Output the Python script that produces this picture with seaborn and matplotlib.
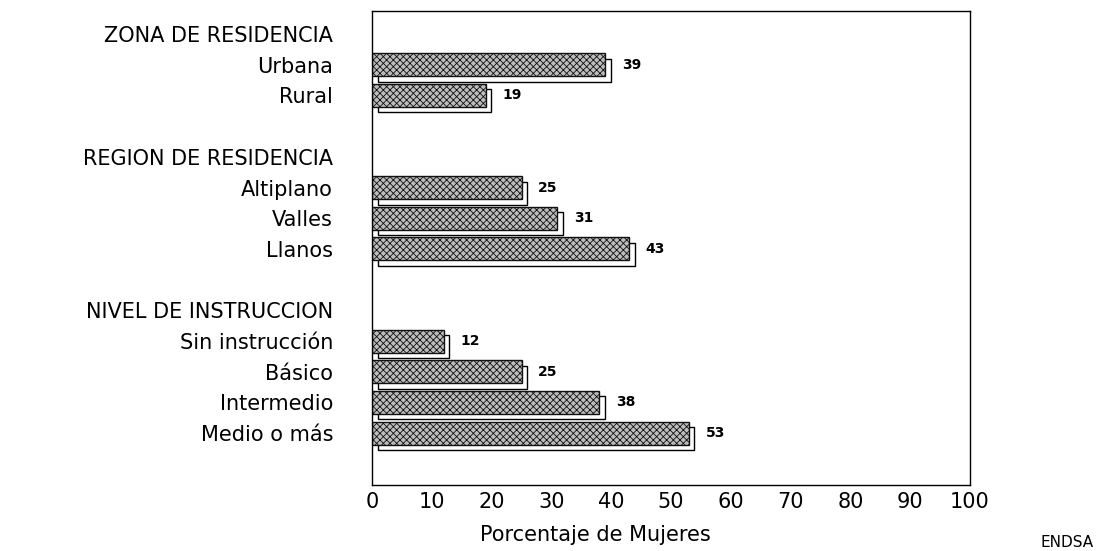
import numpy as np
import pandas as pd
import matplotlib
matplotlib.use("Agg")
import matplotlib.pyplot as plt
import matplotlib.patheffects as pe
import seaborn as sns

categorias = ["ZONA DE RESIDENCIA", "Urbana", "Rural", " ",
              "REGION DE RESIDENCIA", "Altiplano", "Valles", "Llanos", "  ",
              "NIVEL DE INSTRUCCION", "Sin instrucción", "Básico", "Intermedio", "Medio o más"]
valores = [np.nan, 39, 19, np.nan,
           np.nan, 25, 31, 43, np.nan,
           np.nan, 12, 25, 38, 53]
ticks_x = [0, 10, 20, 30, 40, 50, 60, 70, 80, 90, 100]

sns.set_theme(style="white")
plt.rcParams['font.family'] = ['DejaVu Sans']
plt.rcParams['hatch.linewidth'] = 0.6
plt.rcParams['text.color'] = 'black'
plt.rcParams['xtick.color'] = 'black'
plt.rcParams['ytick.color'] = 'black'
plt.rcParams['axes.labelcolor'] = 'black'

df = pd.DataFrame({"categoria": categorias, "valor": valores})

fig = plt.figure(figsize=(10.96, 5.51), dpi=100)
ax = fig.add_axes([372/1096, 1-485/551, (970-372)/1096, (485-11)/551])

sns.barplot(data=df, x="valor", y="categoria", order=categorias, orient="h",
            errorbar=None, color="#bdbdbd", width=0.75, ax=ax, saturation=1)

for p in ax.patches:
    p.set_hatch("xxxxx")
    p.set_edgecolor("#111111")
    p.set_linewidth(1.0)
    p.set_path_effects([
        pe.PathPatchEffect(offset=(4, -4), facecolor="white", edgecolor="black", linewidth=1.0),
        pe.Normal(),
    ])

for c in ax.containers:
    labels = ["" if np.isnan(v) else f"{int(v)}" for v in c.datavalues]
    ax.bar_label(c, labels=labels, padding=12, fontsize=10, fontweight="bold")

ax.set_xlim(0, 100)
ax.set_ylim(14.69, -0.75)
ax.set_xticks(ticks_x)
ax.set_xticklabels([str(t) for t in ticks_x], fontsize=15)
ax.tick_params(axis="y", labelsize=15, length=0, pad=28)
ax.tick_params(axis="x", length=0, pad=5)
ax.set_ylabel("")
ax.set_xlabel("Porcentaje de Mujeres", fontsize=15)
ax.xaxis.set_label_coords((595-372)/598, -0.085)

for s in ax.spines.values():
    s.set_visible(True)
    s.set_color("black")
    s.set_linewidth(1.0)

fig.text(1094/1096, 1/551, "ENDSA", fontsize=11, ha="right", va="bottom")

fig.savefig("out.png", dpi=100)
